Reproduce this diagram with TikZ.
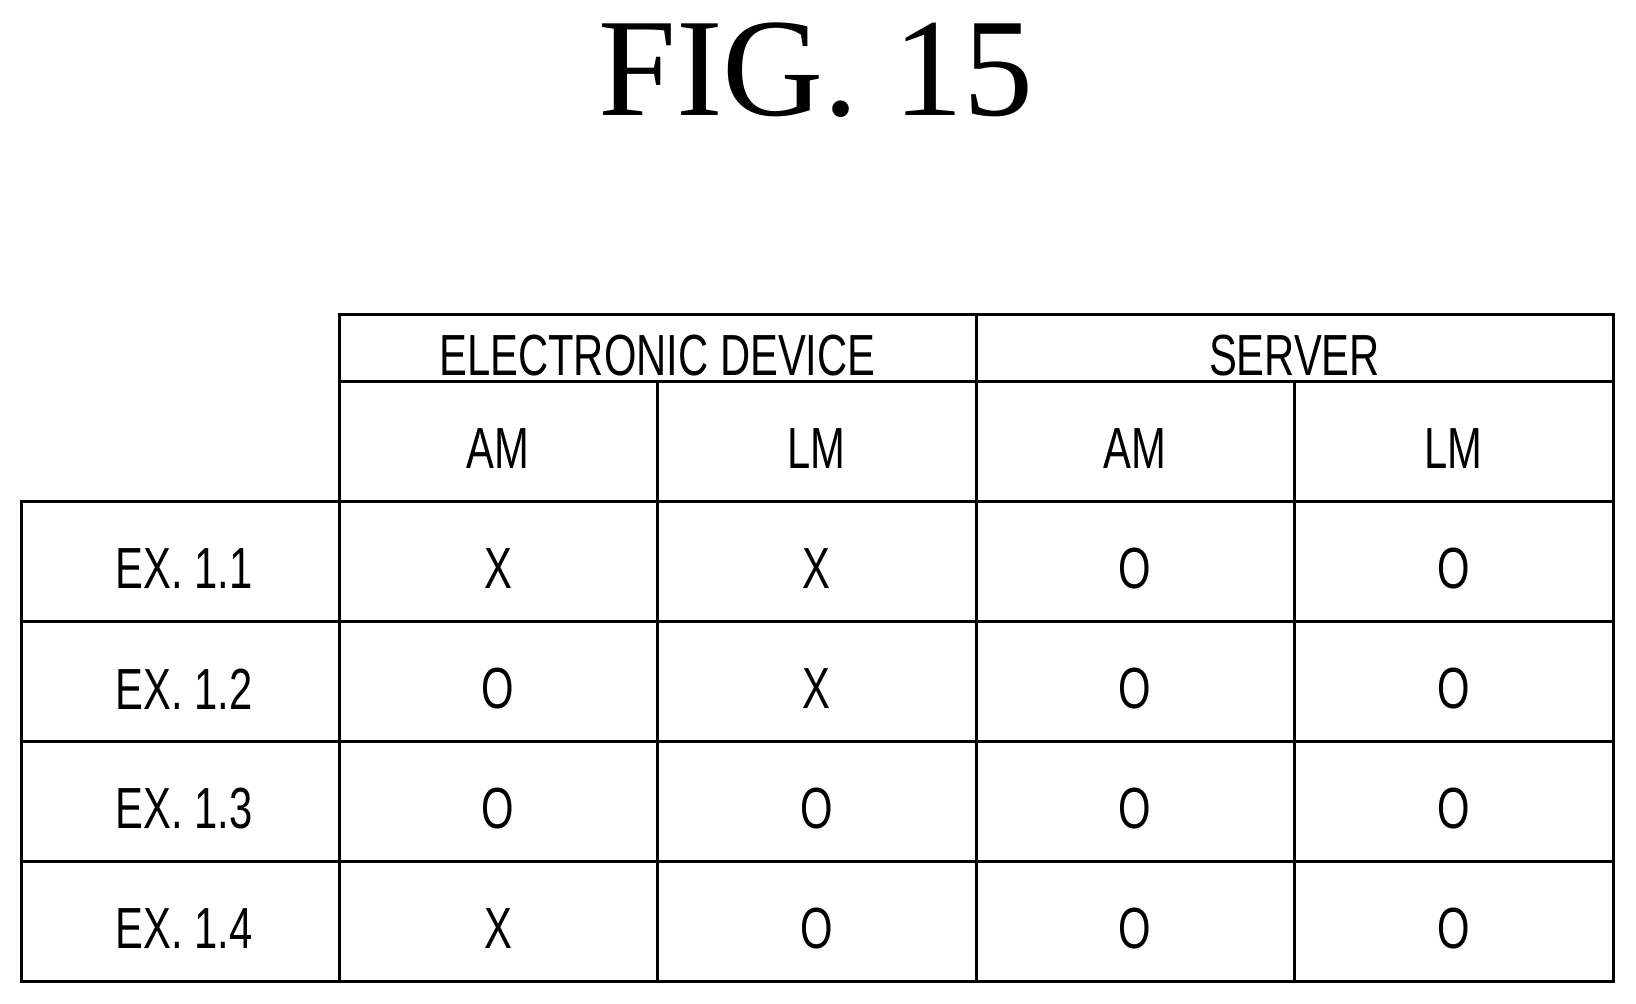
\documentclass[tikz,border=0pt]{standalone}
\usepackage{fontspec}
\setmainfont{Liberation Serif}
\newfontfamily\cellfont[FakeStretch=0.72]{Liberation Sans}
\usetikzlibrary{positioning}

\begin{document}
\begin{tikzpicture}[x=1pt, y=-1pt, line width=3pt,
                    cell/.style= {font=\cellfont\fontsize{58}{58}\selectfont,
                      inner sep=0pt, yshift=-8pt},
                    title/.style= {font=\fontsize{140}{140}\selectfont,
                      inner sep=0pt, anchor=base}]
  \useasboundingbox (0,0) rectangle (1636,1004);

  \node[title] (fig) at (816,115) {FIG. 15};

  % grid
  \draw (339,314) rectangle (1613,381);
  \draw (976,314) -- (976,381);
  \draw (339,381) rectangle (1613,501);
  \draw (21,501) rectangle (1613,981);
  \foreach \y in {621,741,861} \draw (21,\y) -- (1613,\y);
  \foreach \x in {339,657,976,1294} \draw (\x,381) -- (\x,981);

  \node[cell] (dev) at (657.5,348) {ELECTRONIC DEVICE};
  \node[cell] (srv) at (1294.5,348) {SERVER};
  \node[cell] (am1) at (498,441) {AM};
  \node[cell] (lm1) at (816.5,441) {LM};
  \node[cell] (am2) at (1135,441) {AM};
  \node[cell] (lm2) at (1453.5,441) {LM};

  \foreach \name/\y/\a/\b/\c/\d in {1/561/X/X/O/O, 2/681/O/X/O/O,
                                    3/801/O/O/O/O, 4/921/X/O/O/O} {
    \node[cell] (ex\name) at (184,\y) {EX. 1.\name};
    \node[cell] (a\name) at (498,\y) {\a};
    \node[cell] (b\name) at (816.5,\y) {\b};
    \node[cell] (c\name) at (1135,\y) {\c};
    \node[cell] (d\name) at (1453.5,\y) {\d};
  }
\end{tikzpicture}
\end{document}
